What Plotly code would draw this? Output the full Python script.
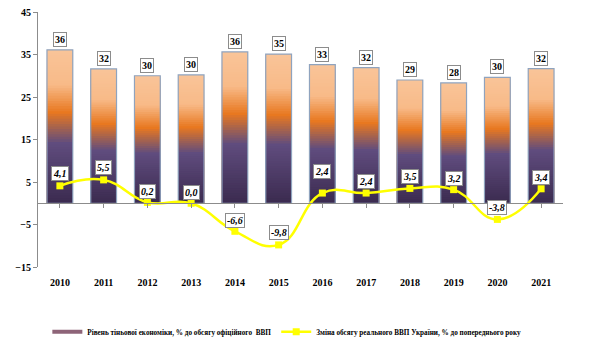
import plotly.graph_objects as go

years = ["2010", "2011", "2012", "2013", "2014", "2015",
         "2016", "2017", "2018", "2019", "2020", "2021"]
shadow = [36.1, 31.6, 30.0, 30.2, 35.6, 35.1, 32.6, 31.9, 29.0, 28.3, 29.6, 31.7]
gdp = [4.1, 5.5, 0.2, 0.0, -6.6, -9.8, 2.4, 2.4, 3.5, 3.2, -3.8, 3.4]
gdp_label_shift = [12, 12, 11, 11, 11, 12, 22, 12, 12, 11, 12, 11]

name_bar = "Рівень тіньової економіки, % до обсягу офіційного  ВВП"
name_line = "Зміна обсягу реального ВВП України, % до попереднього року"

FONT = "Liberation Serif"

# vertical gradient stops (fraction from bar top -> colour)
stops = [(0.0, (249, 196, 152)), (0.22, (248, 186, 136)), (0.40, (232, 120, 32)),
         (0.60, (96, 76, 126)), (1.0, (58, 42, 78))]


def grad(f):
    for (f0, c0), (f1, c1) in zip(stops[:-1], stops[1:]):
        if f0 <= f <= f1:
            t = (f - f0) / (f1 - f0) if f1 > f0 else 0
            c = [round(a + (b - a) * t) for a, b in zip(c0, c1)]
            return "rgb(%d,%d,%d)" % tuple(c)
    return "rgb(%d,%d,%d)" % stops[-1][1]


fig = go.Figure()
N = 60
for k in range(N):
    frac_height = (N - k) / N
    colour = grad(k / N)
    fig.add_trace(go.Bar(
        x=years, y=[v * frac_height for v in shadow],
        marker=dict(color=colour, line=dict(width=0)),
        showlegend=False, hoverinfo="skip"))

# outline
fig.add_trace(go.Bar(
    x=years, y=shadow,
    marker=dict(color="rgba(0,0,0,0)", line=dict(color="#8FA3BE", width=1.2)),
    showlegend=False, hoverinfo="skip"))

# legend swatch for bars (wide thin band like the original)
fig.add_trace(go.Scatter(
    x=[None], y=[None], name=name_bar, mode="lines",
    line=dict(color="#8E6478", width=4)))

fig.add_trace(go.Scatter(
    x=years, y=gdp, name=name_line, xaxis="x2", yaxis="y",
    mode="lines+markers",
    line=dict(color="#FFFF00", width=2.5, shape="spline", smoothing=1.3),
    marker=dict(symbol="square", size=7, color="#FFFF00")))

ann = []
for i, v in enumerate(shadow):
    ann.append(dict(x=i, y=v, xref="x", yref="y", text="<b>%.0f</b>" % v,
                    showarrow=False, yanchor="bottom", yshift=3,
                    font=dict(family=FONT, size=10, color="black"),
                    bgcolor="white", bordercolor="#8C8C8C", borderwidth=1, borderpad=1))
for i, (v, s) in enumerate(zip(gdp, gdp_label_shift)):
    ann.append(dict(x=i, y=v, xref="x", yref="y",
                    text="<b><i>%s</i></b>" % ("%.1f" % v).replace(".", ","),
                    showarrow=False, yanchor="middle", yshift=s,
                    font=dict(family=FONT, size=10, color="black"),
                    bgcolor="white", bordercolor="#8C8C8C", borderwidth=1, borderpad=1))

fig.update_layout(
    width=590, height=353,
    margin=dict(l=38, r=27, t=6, b=83),
    paper_bgcolor="white", plot_bgcolor="white",
    barmode="overlay", bargap=0.41,
    annotations=ann,
    font=dict(family=FONT, color="black"),
    xaxis=dict(type="category", range=[-0.5, 11.5], showgrid=False, zeroline=False,
               showline=False, ticks="outside", ticklen=6, tickcolor="rgba(0,0,0,0)",
               tickfont=dict(family=FONT, size=10, color="black", weight="bold")),
    xaxis2=dict(type="category", range=[-0.5, 11.5], overlaying="x", anchor="free",
                position=0.25, side="bottom", showgrid=False, zeroline=False,
                showline=True, linecolor="#8C8C8C", linewidth=1,
                ticks="outside", ticklen=4, tickcolor="#8C8C8C", showticklabels=False),
    yaxis=dict(range=[-15, 45], tickvals=[-15, -5, 5, 15, 25, 35, 45],
               showgrid=False, zeroline=False, showline=True, linecolor="#8C8C8C",
               linewidth=1, ticks="outside", ticklen=4, tickcolor="#8C8C8C",
               tickfont=dict(family=FONT, size=10, color="black", weight="bold")),
    legend=dict(orientation="h", x=0.474, xanchor="center", y=-0.254, yanchor="middle",
                font=dict(family=FONT, size=7.2, color="black", weight="bold"),
                itemwidth=30, traceorder="normal", bgcolor="rgba(0,0,0,0)"),
)

fig.write_html("out.html")
